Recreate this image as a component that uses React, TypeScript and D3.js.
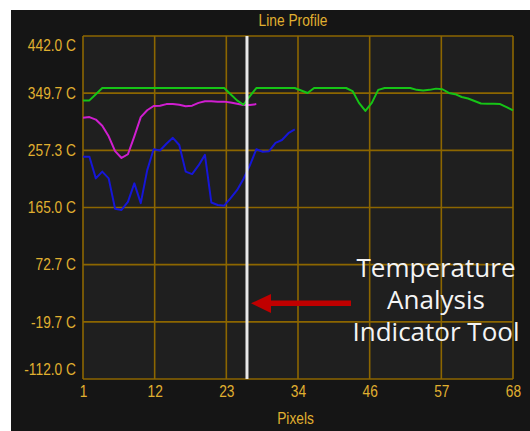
import React from "react";
import * as d3 from "d3";

// ---- data ----
const yTickValues = [442.0, 349.7, 257.3, 165.0, 72.7, -19.7, -112.0];
const xTickLabels = [1, 12, 23, 34, 46, 57, 68];

const greenValues = [
  338, 338, 348, 358, 358, 358, 358, 358, 358, 358,
  358, 358, 358, 358, 358, 358, 358, 358, 358, 358,
  358, 358, 358, 348, 338, 331, 345, 358, 358, 358,
  358, 358, 358, 358, 354, 350, 358, 358, 358, 358,
  358, 358, 353, 334, 321, 334, 355, 358, 358, 358,
  358, 358, 355, 354, 355, 357, 356, 350, 348, 343.5,
  341, 337, 333, 332.6, 332.6, 332, 327, 322,
];

const magentaValues = [
  310, 311, 307, 297, 280, 256, 245, 251, 280, 311,
  322, 329, 329.4, 332, 332, 331, 328.5, 329.5, 334, 336.5,
  336.5, 336, 336, 334.5, 332.5, 330.5, 330.5, 332,
];

const blueValues = [
  247, 247, 212, 223, 212, 163, 161, 174, 204, 172,
  225, 259, 257, 268, 277.5, 266, 223, 219, 233, 250,
  173, 169, 168, 180, 193, 211, 233, 259, 255, 256,
  269.5, 274, 285, 291,
];

const cursorPixel = 26.55;

const W = 530;
const H = 431;
const plot = { left: 83, top: 36, right: 513, bottom: 379 };

const gold = "#e0b030";
const gridColor = "#8c6600";

export default function App() {
  const x = d3.scaleLinear().domain([1, 68]).range([plot.left, plot.right]);
  const y = d3.scaleLinear().domain([-112, 442]).range([plot.bottom, plot.top]);
  const xTickPos = xTickLabels.map((_, i) => 1 + (i * (68 - 1)) / (xTickLabels.length - 1));

  const line = d3
    .line<number>()
    .x((_, i) => x(i + 1))
    .y((v) => y(v));

  const series = [
    { values: blueValues, color: "#1616d8" },
    { values: magentaValues, color: "#d01ed0" },
    { values: greenValues, color: "#16c416" },
  ];

  const labelFont = "'Liberation Sans', Arial, sans-serif";

  return (
    <svg
      width={W}
      height={H}
      style={{ position: "absolute", left: 0, top: 0 }}
    >
      <rect x={0} y={0} width={W} height={H} fill="#ffffff" />
      <rect x={11} y={10} width={W - 11} height={H - 10} fill="#151515" />
      <rect
        x={plot.left}
        y={plot.top}
        width={plot.right - plot.left}
        height={plot.bottom - plot.top}
        fill="#1f1f1f"
      />
      {/* grid */}
      {yTickValues.map((v, i) => (
        <line
          key={"gy" + i}
          x1={plot.left}
          x2={plot.right}
          y1={y(v)}
          y2={y(v)}
          stroke={gridColor}
          strokeWidth={1.6}
        />
      ))}
      {xTickPos.map((p, i) => (
        <line
          key={"gx" + i}
          x1={x(p)}
          x2={x(p)}
          y1={plot.top}
          y2={plot.bottom}
          stroke={gridColor}
          strokeWidth={1.6}
        />
      ))}
      {/* y labels */}
      {yTickValues.map((v, i) => {
        const cy = Math.min(Math.max(y(v), plot.top + 9), plot.bottom - 9.5);
        return (
          <text
            key={"ly" + i}
            transform={`translate(76,${cy + 5.7}) scale(0.86,1)`}
            textAnchor="end"
            fontFamily={labelFont}
            fontSize={16}
            fill={gold}
          >
            {v.toFixed(1) + " C"}
          </text>
        );
      })}
      {/* x labels */}
      {xTickPos.map((p, i) => (
        <text
          key={"lx" + i}
          transform={`translate(${x(p) + 0.5},397.3) scale(0.86,1)`}
          textAnchor="middle"
          fontFamily={labelFont}
          fontSize={16}
          fill={gold}
        >
          {xTickLabels[i]}
        </text>
      ))}
      <text
        transform="translate(293,25.5) scale(0.86,1)"
        textAnchor="middle"
        fontFamily={labelFont}
        fontSize={16}
        fill={gold}
      >
        Line Profile
      </text>
      <text
        transform="translate(295.5,424.3) scale(0.86,1)"
        textAnchor="middle"
        fontFamily={labelFont}
        fontSize={16}
        fill={gold}
      >
        Pixels
      </text>
      {/* series */}
      {series.map((s, i) => (
        <path
          key={"s" + i}
          d={line(s.values) || ""}
          fill="none"
          stroke={s.color}
          strokeWidth={2}
          strokeLinejoin="round"
        />
      ))}
      {/* cursor */}
      <line
        x1={x(cursorPixel)}
        x2={x(cursorPixel)}
        y1={plot.top}
        y2={plot.bottom}
        stroke="#e8e8e8"
        strokeWidth={3}
      />
      {/* arrow */}
      <line x1={270} x2={351} y1={303.3} y2={303.3} stroke="#c00000" strokeWidth={5.5} />
      <polygon points="251,303.3 271,294 271,313" fill="#c00000" />
      {/* annotation */}
      <g fontFamily="'Open Sans', sans-serif" fontSize={26} fill="#f4f4f4" textAnchor="middle">
        <text x={436} y={277}>Temperature</text>
        <text x={436} y={309}>Analysis</text>
        <text x={436} y={341}>Indicator Tool</text>
      </g>
    </svg>
  );
}
